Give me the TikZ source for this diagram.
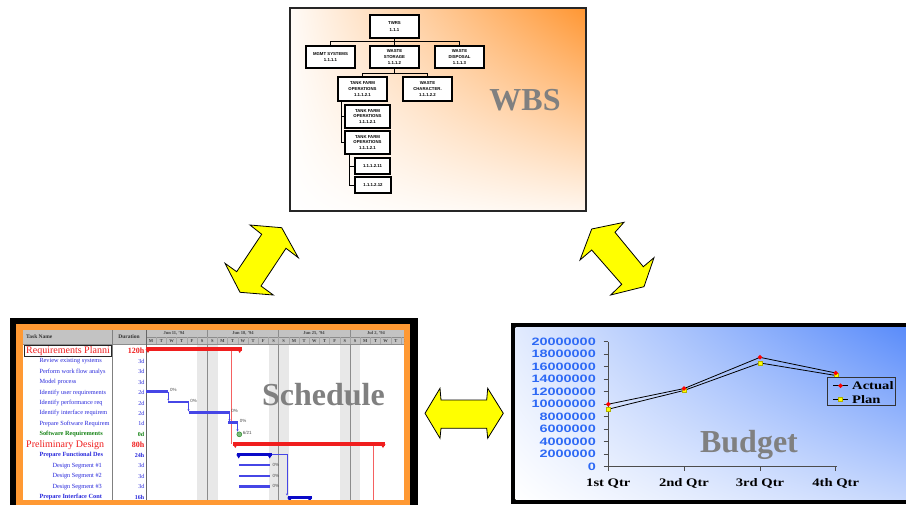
\documentclass[tikz,border=0pt]{standalone}
\usepackage{fontspec}
\setmainfont{Liberation Serif}
\setsansfont{Liberation Sans}
\usepackage{graphicx}
\usetikzlibrary{arrows.meta,shadings,calc}
\definecolor{wbsorange}{RGB}{255,150,50}
\definecolor{budblue}{RGB}{90,140,250}
\definecolor{ylw}{RGB}{255,255,0}
\definecolor{schorange}{RGB}{255,153,51}
\definecolor{labgray}{RGB}{128,128,128}
\definecolor{ganttblue}{RGB}{70,70,230}
\definecolor{darkblue}{RGB}{10,10,200}
\definecolor{gred}{RGB}{240,30,30}
\definecolor{taskblue}{RGB}{40,40,220}
\definecolor{msgreen}{RGB}{20,130,20}
\definecolor{axisblue}{RGB}{45,105,245}
\definecolor{hdrgray}{RGB}{195,195,195}
\definecolor{wkgray}{RGB}{232,232,232}
\newcommand\gsum[4]{%
  \fill[#4] (#1,#3-1.6) rectangle (#2,#3+1.6);
  \fill[#4] (#1-0.5,#3) -- (#1+4.5,#3) -- (#1+2,#3+4) -- cycle;
  \fill[#4] (#2-4.5,#3) -- (#2+0.5,#3) -- (#2-2,#3+4) -- cycle;}
\newcommand\gtask[3]{\fill[ganttblue] (#1,#3-1.4) rectangle (#2,#3+1.4);}
\tikzset{
  wbsbox/.style={draw=black, line width=1.1pt, fill=white, minimum width=49pt, minimum height=22pt, inner sep=0pt, align=center, font=\sffamily\bfseries\fontsize{4.3}{5.9}\selectfont},
  wbslink/.style={draw=black, line width=0.8pt},
  bigtitle/.style={text=labgray, font=\fontsize{32}{36}\selectfont\bfseries, inner sep=0pt},
  yarrow/.style={fill=ylw, draw=black, line width=0.8pt, line join=miter},
  tsum/.style={anchor=west, inner sep=0pt, text=gred, font=\fontsize{10}{11}\selectfont},
  ttask/.style={anchor=west, inner sep=0pt, text=taskblue, font=\fontsize{6.3}{7}\selectfont},
  tbold/.style={anchor=west, inner sep=0pt, text=taskblue, font=\fontsize{6.3}{7}\selectfont\bfseries},
  tms/.style={anchor=west, inner sep=0pt, text=msgreen, font=\fontsize{6.3}{7}\selectfont\bfseries},
  tdur/.style={anchor=east, inner sep=0pt, text=taskblue, font=\fontsize{6}{7}\selectfont},
  tdursum/.style={anchor=east, inner sep=0pt, text=gred, font=\fontsize{8}{9}\selectfont\bfseries},
  hdr/.style={inner sep=0pt, text=black!80, font=\fontsize{5.5}{6}\selectfont\bfseries},
  ghdr/.style={inner sep=0pt, text=black!75, font=\fontsize{4.5}{5}\selectfont\bfseries},
  pct/.style={anchor=west, inner sep=0.3pt, text=black!70, font=\sffamily\fontsize{4.5}{5}\selectfont},
  dep/.style={draw=ganttblue, line width=0.5pt, -{Stealth[length=2pt,width=2pt]}},
  ylab/.style={anchor=east, inner sep=0pt, text=axisblue, font=\sffamily\bfseries\fontsize{10.7}{12}\selectfont},
  xlab/.style={inner sep=0pt, text=black, font=\bfseries\fontsize{11.5}{13}\selectfont},
  chartline/.style={draw=black, line width=0.8pt},
  amark/.style={fill=red, minimum size=3.4pt, inner sep=0pt, rectangle, rotate=45},
  pmark/.style={fill=ylw, draw=ylw!70!black, line width=0.2pt, minimum size=4pt, inner sep=0pt, rectangle},
}
\begin{document}
\begin{tikzpicture}[x=1pt,y=-1pt]
\useasboundingbox (0,0) rectangle (906,504);
\fill[white] (0,0) rectangle (906,504);

% ---------------- WBS panel ----------------
\shade[upper left=wbsorange!4, upper right=wbsorange, lower left=white, lower right=wbsorange!8] (290,8) rectangle (586,211);
\draw[black!85, line width=1.3pt] (290,8) rectangle (586,211);
\node[wbsbox, minimum height=23pt] (twrs) at (394.5,26.5) {TWRS\\[2pt]1.1.1};
\node[wbsbox] (mgmt) at (330.5,57) {MGMT SYSTEMS\\1.1.1.1};
\node[wbsbox] (storage) at (394.5,57) {WASTE\\STORAGE\\1.1.1.2};
\node[wbsbox] (disposal) at (459.5,57) {WASTE\\DISPOSAL\\1.1.1.3};
\node[wbsbox, minimum height=24pt] (tank1) at (362.5,89) {TANK FARM\\OPERATIONS\\1.1.1.2.1};
\node[wbsbox, minimum height=24pt] (char) at (427.5,89) {WASTE\\CHARACTER.\\1.1.1.2.2};
\node[wbsbox, minimum width=45pt, minimum height=23pt] (tank2) at (367.5,116.5) {TANK FARM\\OPERATIONS\\1.1.1.2.1};
\node[wbsbox, minimum width=45pt, minimum height=23pt] (tank3) at (367.5,142.5) {TANK FARM\\OPERATIONS\\1.1.1.2.1};
\node[wbsbox, minimum width=35pt, minimum height=16pt] (l11) at (372.5,166) {1.1.1.2.11};
\node[wbsbox, minimum width=36pt, minimum height=16pt] (l12) at (373,185) {1.1.1.2.12};
\draw[wbslink] (twrs.south) -- (storage.north);
\draw[wbslink] (twrs.south) -- ++(0,2.5) -| (mgmt.north);
\draw[wbslink] (twrs.south) -- ++(0,2.5) -| (disposal.north);
\draw[wbslink] (storage.south) -- ++(0,5) -| (tank1.north);
\draw[wbslink] (storage.south) -- ++(0,5) -| (char.north);
\draw[wbslink] ([xshift=4.3pt]tank1.south west) |- (tank2.west);
\draw[wbslink] ([xshift=4.3pt]tank1.south west) |- (tank3.west);
\draw[wbslink] ([xshift=5pt]tank3.south west) |- (l11.west);
\draw[wbslink] ([xshift=5pt]tank3.south west) |- (l12.west);
\node[bigtitle] (wbstitle) at (525,100) {WBS};

% ---------------- yellow arrows ----------------
\filldraw[yarrow] (281.7,227.7) -- (298.3,257.7) -- (286,248.3) -- (261,286) -- (273.3,295) -- (240,292.3) -- (225,263.3) -- (236.7,271.7) -- (261.7,234.3) -- (250,225) -- cycle;
\filldraw[yarrow] (591.7,229) -- (624,222.3) -- (615,232.3) -- (643.3,266.7) -- (654,257.7) -- (644,286.7) -- (610.7,295) -- (621.7,284.3) -- (591.7,250) -- (580,260) -- cycle;
\filldraw[yarrow] (425,413.3) -- (440,388.3) -- (441,400) -- (486.7,400) -- (487.7,388.3) -- (503.3,413.3) -- (487.7,438.3) -- (486.7,428.3) -- (441,428.3) -- (440,438.3) -- cycle;

% ---------------- Schedule panel ----------------
\fill[black] (10,318) rectangle (418,510);
\fill[schorange] (16,324) rectangle (410,510);
\fill[white] (23,330) rectangle (404,499.5);
\begin{scope}
\clip (23,330) rectangle (404,499.5);
% weekend shading
\foreach \x in {197.2,268.6,340} \fill[wkgray] (\x,344) rectangle (\x+20.4,500);
% header
\fill[hdrgray] (23,330) rectangle (404,344);
\draw[black!45, line width=0.4pt] (23,344) -- (404,344);
\draw[black!45, line width=0.4pt] (146,337) -- (404,337);
\draw[black!50, line width=0.5pt] (112,330) -- (112,500);
\draw[black!60, line width=0.6pt] (146,330) -- (146,500);
\foreach \x in {207.2,278.6,350} \draw[black!45, line width=0.5pt] (\x,330) -- (\x,500);
\foreach \i in {1,...,25} \draw[black!35, line width=0.3pt] (146+10.2*\i,337) -- (146+10.2*\i,344);
\node[hdr, anchor=west] (hname) at (26,337) {Task Name};
\node[hdr] (hdur) at (129,337) {Duration};
\node[ghdr] (w1) at (174,333.5) {Jun 11, '94};
\node[ghdr] (w2) at (243,333.5) {Jun 18, '94};
\node[ghdr] (w3) at (314,333.5) {Jun 25, '94};
\node[ghdr] (w4) at (376,333.5) {Jul 2, '94};
\foreach [count=\i from 0] \l in {M,T,W,T,F,S,S,M,T,W,T,F,S,S,M,T,W,T,F,S,S,M,T,W,T,F}
  \node[ghdr] at (146+10.2*\i+5.1,340.6) {\l};
% task names
\begin{scope}
\clip (23,344) rectangle (111.5,500);
\node[tsum] (t1) at (26,350.9) {Requirements Planni};
\node[ttask] (t2) at (39.3,361.2) {Review existing systems};
\node[ttask] (t3) at (39.3,371.6) {Perform work flow analys};
\node[ttask] (t4) at (39.3,382.1) {Model process};
\node[ttask] (t5) at (39.3,392.5) {Identify user requirements};
\node[ttask] (t6) at (39.3,403.0) {Identify performance req};
\node[ttask] (t7) at (39.3,413.4) {Identify interface requirem};
\node[ttask] (t8) at (39.3,423.9) {Prepare Software Requirem};
\node[tms] (t9) at (39.3,434.3) {Software Requirements};
\node[tsum] (t10) at (26,445) {Preliminary Design};
\node[tbold] (t11) at (39.3,455.2) {Prepare Functional Des};
\node[ttask] (t12) at (52.3,465.7) {Design Segment \#1};
\node[ttask] (t13) at (52.3,476.1) {Design Segment \#2};
\node[ttask] (t14) at (52.3,486.6) {Design Segment \#3};
\node[tbold] (t15) at (39.3,497.0) {Prepare Interface Cont};
\end{scope}
\draw[black!85, line width=0.8pt] (24,345.2) rectangle (111.5,356.8);
% durations
\node[tdursum] (d1) at (144.5,350.9) {120h};
\node[tdur] (d2) at (144.5,361.2) {3d};
\node[tdur] (d3) at (144.5,371.6) {3d};
\node[tdur] (d4) at (144.5,382.1) {3d};
\node[tdur] (d5) at (144.5,392.5) {2d};
\node[tdur] (d6) at (144.5,403.0) {2d};
\node[tdur] (d7) at (144.5,413.4) {2d};
\node[tdur] (d8) at (144.5,423.9) {1d};
\node[tdur, text=msgreen, font=\fontsize{6}{7}\selectfont\bfseries] (d9) at (144.5,434.3) {0d};
\node[tdursum] (d10) at (144.5,445) {80h};
\node[tdur, font=\fontsize{6}{7}\selectfont\bfseries] (d11) at (144.5,455.2) {24h};
\node[tdur] (d12) at (144.5,465.7) {3d};
\node[tdur] (d13) at (144.5,476.1) {3d};
\node[tdur] (d14) at (144.5,486.6) {3d};
\node[tdur, font=\fontsize{6}{7}\selectfont\bfseries] (d15) at (144.5,497.0) {16h};
% gantt bars
\draw[gred!70, line width=0.6pt] (231.7,350) -- (231.7,444);
\draw[gred!70, line width=0.6pt] (373.3,445) -- (373.3,500);
\gsum{146}{241.7}{349}{gred}
\gsum{233.3}{385}{444}{gred}
\gtask{146}{168.3}{391.5}
\gtask{168.3}{188.5}{402}
\gtask{188.5}{229.5}{412.5}
\gtask{228}{238}{422.5}
\draw[dep] (168.3,391.5) -- (168.3,400.8);
\draw[dep] (188.5,402) -- (188.5,411.3);
\draw[dep] (229.5,412.5) -- (229.5,421.3);
\draw[dep] (237.5,422.5) -- (237.5,431.5);
\node[pct] (p5) at (169.5,390.3) {0\%};
\node[pct] (p6) at (189.8,400.8) {0\%};
\node[pct] (p7) at (230.8,411.3) {0\%};
\node[pct] (p8) at (239.3,421.3) {0\%};
\node[circle, fill=msgreen!55, draw=msgreen, line width=0.4pt, minimum size=5pt, inner sep=0pt] (ms) at (239.3,434.3) {};
\node[pct] (pms) at (242.3,433.3) {6/21};
\gsum{236.7}{271.7}{454.5}{darkblue}
\gtask{239}{270}{465}
\gtask{239}{270}{476}
\gtask{239}{270}{486.5}
\node[pct] (p12) at (272,464.5) {0\%};
\node[pct] (p13) at (272,475.5) {0\%};
\node[pct] (p14) at (272,486) {0\%};
\draw[dep] (271.7,454.5) -- (287,454.5) -- (287,495.5);
\gsum{287.7}{311.7}{497.5}{darkblue}
\end{scope}
\node[bigtitle] (schedtitle) at (323.5,395) {Schedule};

% ---------------- Budget panel ----------------
\fill[black] (511,323) rectangle (910,503.5);
\shade[upper left=budblue!18, upper right=budblue, lower left=white, lower right=budblue!35] (515.5,327.5) rectangle (906,499);
\draw[black!70, line width=0.9pt] (608.3,341.7) -- (608.3,466.7) -- (836.7,466.7);
\foreach \v in {0,...,10} \draw[black!70, line width=0.9pt] (603.5,466.7-\v*12.5) -- (608.3,466.7-\v*12.5);
\foreach \x in {608.3,684,760,835.7} \draw[black!70, line width=0.9pt] (\x,466.7) -- (\x,470.5);
\foreach \v/\lab in {0/0,1/2000000,2/4000000,3/6000000,4/8000000,5/10000000,6/12000000,7/14000000,8/16000000,9/18000000,10/20000000}
  \node[ylab] (yl\v) at (596,466.7-\v*12.5) {\scalebox{1.35}[1]{\lab}};
\node[xlab] (q1) at (608.3,483.5) {\scalebox{1.27}[1]{1st Qtr}};
\node[xlab] (q2) at (684,483.5) {\scalebox{1.27}[1]{2nd Qtr}};
\node[xlab] (q3) at (760,483.5) {\scalebox{1.27}[1]{3rd Qtr}};
\node[xlab] (q4) at (835.7,483.5) {\scalebox{1.27}[1]{4th Qtr}};
\foreach \n/\x/\va/\vp in {1/608.3/10.0/9.2, 2/684/12.5/12.2, 3/760/17.5/16.6, 4/835.7/15.0/14.6} {
  \coordinate (a\n) at (\x,466.7-\va*6.25);
  \coordinate (p\n) at (\x,466.7-\vp*6.25);
}
\draw[chartline] (a1) -- (a2) -- (a3) -- (a4);
\draw[chartline] (p1) -- (p2) -- (p3) -- (p4);
\foreach \n in {1,...,4} {
  \node[pmark] at (p\n) {};
  \node[amark] at (a\n) {};
}
\node[bigtitle] (budtitle) at (749,445) {Budget};
% legend
\draw[black!80, line width=0.9pt] (827.7,377.3) rectangle (895.7,405);
\coordinate (la1) at (833,385.7);
\coordinate (la2) at (848,385.7);
\coordinate (lp1) at (833,399.3);
\coordinate (lp2) at (848,399.3);
\draw[chartline] (la1) -- (la2);
\draw[chartline] (lp1) -- (lp2);
\node[pmark] at ($ (lp1)!0.5!(lp2) $) {};
\node[amark] at ($ (la1)!0.5!(la2) $) {};
\node[xlab, anchor=west] (lega) at (852,385.7) {\scalebox{1.27}[1]{Actual}};
\node[xlab, anchor=west] (legp) at (852,399.3) {\scalebox{1.27}[1]{Plan}};
\end{tikzpicture}
\end{document}
